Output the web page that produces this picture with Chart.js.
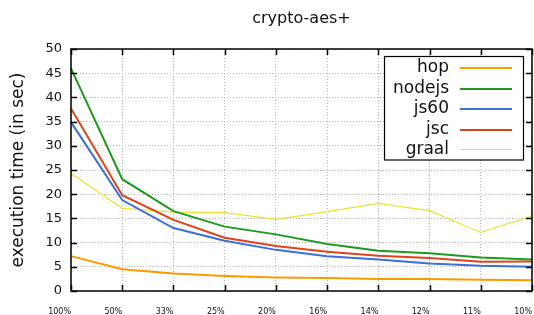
<!DOCTYPE html>
<html>
<head>
<meta charset="utf-8">
<script src="https://cdn.jsdelivr.net/npm/chart.js@4/dist/chart.umd.min.js"></script>
<style>
html,body{margin:0;padding:0;background:#fff;}
#wrap{width:534px;height:315px;}
</style>
</head>
<body>
<div id="wrap"><canvas id="c" width="534" height="315"></canvas></div>
<script>
const categories = ['100%','50%','33%','25%','20%','16%','14%','12%','11%','10%'];
const seriesNames = ['hop','nodejs','js60','jsc','graal'];
const hop    = [7.2, 4.5, 3.6, 3.1, 2.8, 2.7, 2.5, 2.5, 2.3, 2.2];
const nodejs = [46.0, 23.1, 16.5, 13.3, 11.7, 9.7, 8.3, 7.8, 6.9, 6.5];
const js60   = [34.9, 18.8, 13.0, 10.4, 8.5, 7.2, 6.5, 5.7, 5.2, 5.0];
const jsc    = [37.7, 19.8, 14.7, 11.0, 9.3, 8.1, 7.3, 6.8, 6.05, 6.1];
const graal  = [24.3, 17.1, 16.3, 16.2, 14.8, 16.4, 18.1, 16.6, 12.1, 15.5];
const yTicks = [0,5,10,15,20,25,30,35,40,45,50];
const titleText = 'crypto-aes+';
const yTitle = 'execution time (in sec)';

const colors = ['#ff9800', '#1d9a1d', '#3b6fd6', '#e0421c', '#ece030'];
const widths = [2, 2, 2, 2, 1.2];
const values = [hop, nodejs, js60, jsc, graal];

const FONT = '"DejaVu Sans", Verdana, sans-serif';

const framePlugin = {
  id: 'frame',
  afterDraw(chart) {
    const ctx = chart.ctx;
    const a = chart.chartArea;
    ctx.save();
    ctx.fillStyle = '#111';
    ctx.font = '16px ' + FONT;
    ctx.textAlign = 'center';
    ctx.textBaseline = 'middle';
    ctx.fillText(titleText, (a.left + a.right) / 2, 19);
    ctx.restore();
  },
  afterDatasetsDraw(chart) {
    const ctx = chart.ctx;
    const a = chart.chartArea;
    const xs = chart.scales.x, ys = chart.scales.y;
    ctx.save();
    ctx.strokeStyle = '#000';
    ctx.lineWidth = 1.5;
    ctx.strokeRect(a.left, a.top, a.right - a.left, a.bottom - a.top);
    const tl = 6;
    ctx.beginPath();
    for (let i = 0; i < categories.length; i++) {
      const x = Math.round(xs.getPixelForTick(i)) + 0.5;
      ctx.moveTo(x, a.bottom); ctx.lineTo(x, a.bottom - tl);
      ctx.moveTo(x, a.top); ctx.lineTo(x, a.top + tl);
    }
    for (const v of yTicks) {
      const y = Math.round(ys.getPixelForValue(v)) + 0.5;
      ctx.moveTo(a.left, y); ctx.lineTo(a.left + tl, y);
      ctx.moveTo(a.right, y); ctx.lineTo(a.right - tl, y);
    }
    ctx.stroke();

    // legend
    const bx = 384.5, by = 56.5, bw = 139, bh = 103.5;
    ctx.fillStyle = '#fff';
    ctx.fillRect(bx, by, bw, bh);
    ctx.strokeStyle = '#000';
    ctx.lineWidth = 1.2;
    ctx.strokeRect(bx, by, bw, bh);
    ctx.font = '17px ' + FONT;
    ctx.textAlign = 'right';
    ctx.textBaseline = 'middle';
    chart.data.datasets.forEach((ds, i) => {
      const y = 68 + i * 20.5;
      ctx.fillStyle = '#111';
      ctx.fillText(ds.label, 449, y);
      ctx.strokeStyle = ds.borderColor;
      ctx.lineWidth = ds.borderWidth;
      const ly = ds.borderWidth < 2 ? Math.round(y) - 0.5 : Math.round(y);
      ctx.beginPath();
      ctx.moveTo(460, ly);
      ctx.lineTo(512, ly);
      ctx.stroke();
    });
    ctx.restore();
  }
};

new Chart(document.getElementById('c'), {
  type: 'line',
  data: {
    labels: categories,
    datasets: seriesNames.map((n, i) => ({
      label: n,
      data: values[i],
      borderColor: colors[i],
      backgroundColor: colors[i],
      borderWidth: widths[i],
      pointRadius: 0,
      tension: 0,
      fill: false
    }))
  },
  options: {
    responsive: false,
    animation: false,
    devicePixelRatio: 1,
    layout: { padding: { left: 0, right: 2, top: 49, bottom: 0 } },
    plugins: { legend: { display: false }, title: { display: false }, tooltip: { enabled: false } },
    scales: {
      x: {
        type: 'category',
        offset: false,
        grid: { display: true, color: '#b4b4b4', lineWidth: 1, drawTicks: true, tickLength: 15, tickColor: 'rgba(0,0,0,0)' },
        border: { display: false, dash: [1, 2] },
        ticks: { font: { family: FONT, size: 8 }, color: '#111', padding: 1, maxRotation: 0, autoSkip: false, align: 'end' },
        afterFit(s) { s.height = 24; }
      },
      y: {
        min: 0, max: 50,
        grid: { display: true, color: '#b4b4b4', lineWidth: 1, drawTicks: false },
        border: { display: false, dash: [1, 2] },
        ticks: { stepSize: 5, font: { family: FONT, size: 13 }, color: '#111', padding: 9 },
        title: { display: true, text: yTitle, font: { family: FONT, size: 17 }, color: '#111', padding: { top: 8, bottom: 0 } },
        afterFit(s) { s.width = 71; }
      }
    }
  },
  plugins: [framePlugin]
});
</script>
</body>
</html>
